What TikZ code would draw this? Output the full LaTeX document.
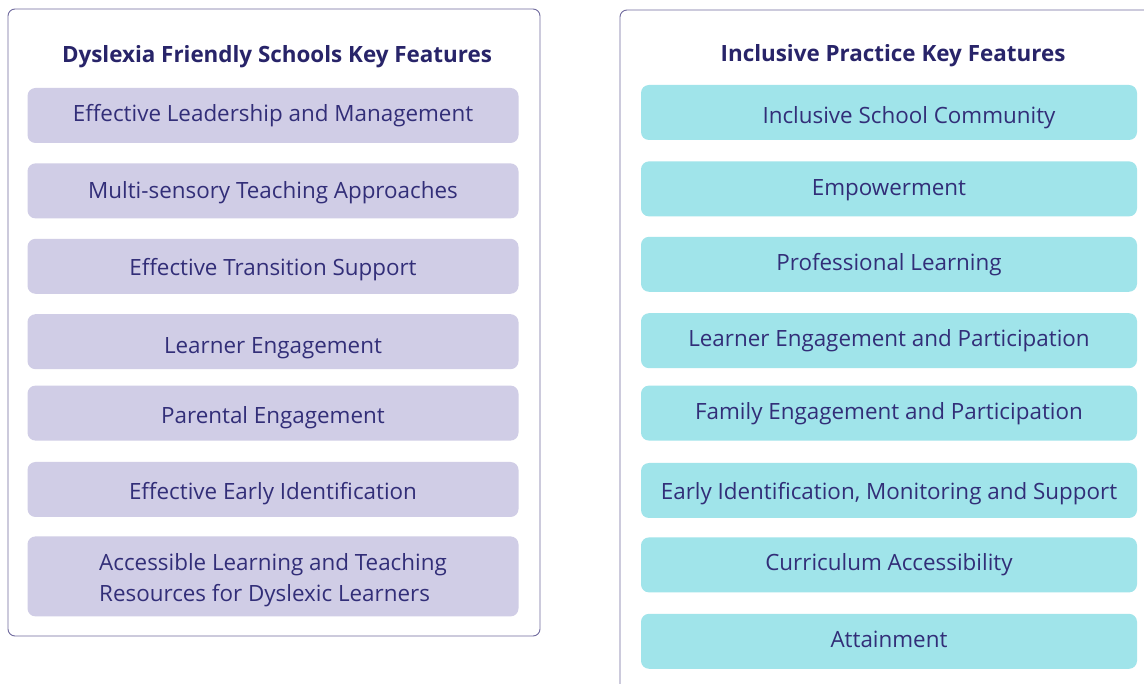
\documentclass[tikz,border=0pt]{standalone}
\usepackage{fontspec}
\setmainfont{Open Sans}
\usepackage{tikz}
\usetikzlibrary{positioning}
\definecolor{dfsframe}{RGB}{112,106,158}
\definecolor{dfsfill}{RGB}{208,205,230}
\definecolor{ipfill}{RGB}{160,228,234}
\definecolor{featink}{RGB}{50,46,120}
\definecolor{titleink}{RGB}{40,36,105}

\begin{document}
\begin{tikzpicture}[
    x=1pt, y=-1pt,
    node distance=20pt,
    panel/.style={draw=dfsframe, line width=0.9pt, rounded corners=7pt},
    title/.style={font=\fontsize{22.4}{26}\selectfont\bfseries, text=titleink, anchor=base},
    feature/.style={rectangle, rounded corners=8pt, minimum width=491pt, minimum height=55pt,
        text=featink, font=\fontsize{22.4}{31}\selectfont, align=center, inner sep=0pt,
        text height=15pt, text depth=2pt},
    lift/.style={text height=#1},
    dfs/.style={feature, fill=dfsfill},
    ip/.style={feature, fill=ipfill, minimum width=496pt}
]
\useasboundingbox (0,0) rectangle (1144,684);
\fill[white] (0,0) rectangle (1144,684);

% Panels
\draw[panel] (8,9) rectangle (540,636);
\begin{scope}
\clip (0,0) rectangle (1144,684);
\draw[panel] (620,10) rectangle (1170,720);
\end{scope}

% Left: Dyslexia Friendly Schools
\node[title] (dfstitle) at (277,63) {Dyslexia Friendly Schools Key Features};
\node[dfs] (lead) at (273,115.5) {Effective Leadership and Management};
\node[dfs, below=of lead, lift=17pt] (multi) {Multi-sensory Teaching Approaches};
\node[dfs, below=of multi, lift=21pt] (trans) {Effective Transition Support};
\node[dfs, below=of trans, lift=26pt] (learn) {Learner Engagement};
\node[dfs, below=16pt of learn, lift=22pt] (parent) {Parental Engagement};
\node[dfs, below=21pt of parent, lift=22pt] (early) {Effective Early Identification};
\node[dfs, below=19pt of early, minimum height=80pt, align=left, lift=52pt] (access) {Accessible Learning and Teaching\\Resources for Dyslexic Learners};

% Right: Inclusive Practice
\node[title] (iptitle) at (893,62) {Inclusive Practice Key Features};
\node[ip, lift=25pt] (comm) at (889,112.5) {\hspace*{40pt}Inclusive School Community};
\node[ip, below=21pt of comm] (empower) {Empowerment};
\node[ip, below=of empower, lift=15pt] (prof) {Professional Learning};
\node[ip, below=21pt of prof, lift=14pt] (partic) {Learner Engagement and Participation};
\node[ip, below=17pt of partic, lift=14pt] (family) {Family Engagement and Participation};
\node[ip, below=22pt of family, lift=20pt] (monitor) {Early Identification, Monitoring and Support};
\node[ip, below=19pt of monitor, lift=14pt] (curric) {Curriculum Accessibility};
\node[ip, below=21pt of curric, lift=15pt] (attain) {Attainment};

\end{tikzpicture}
\end{document}
